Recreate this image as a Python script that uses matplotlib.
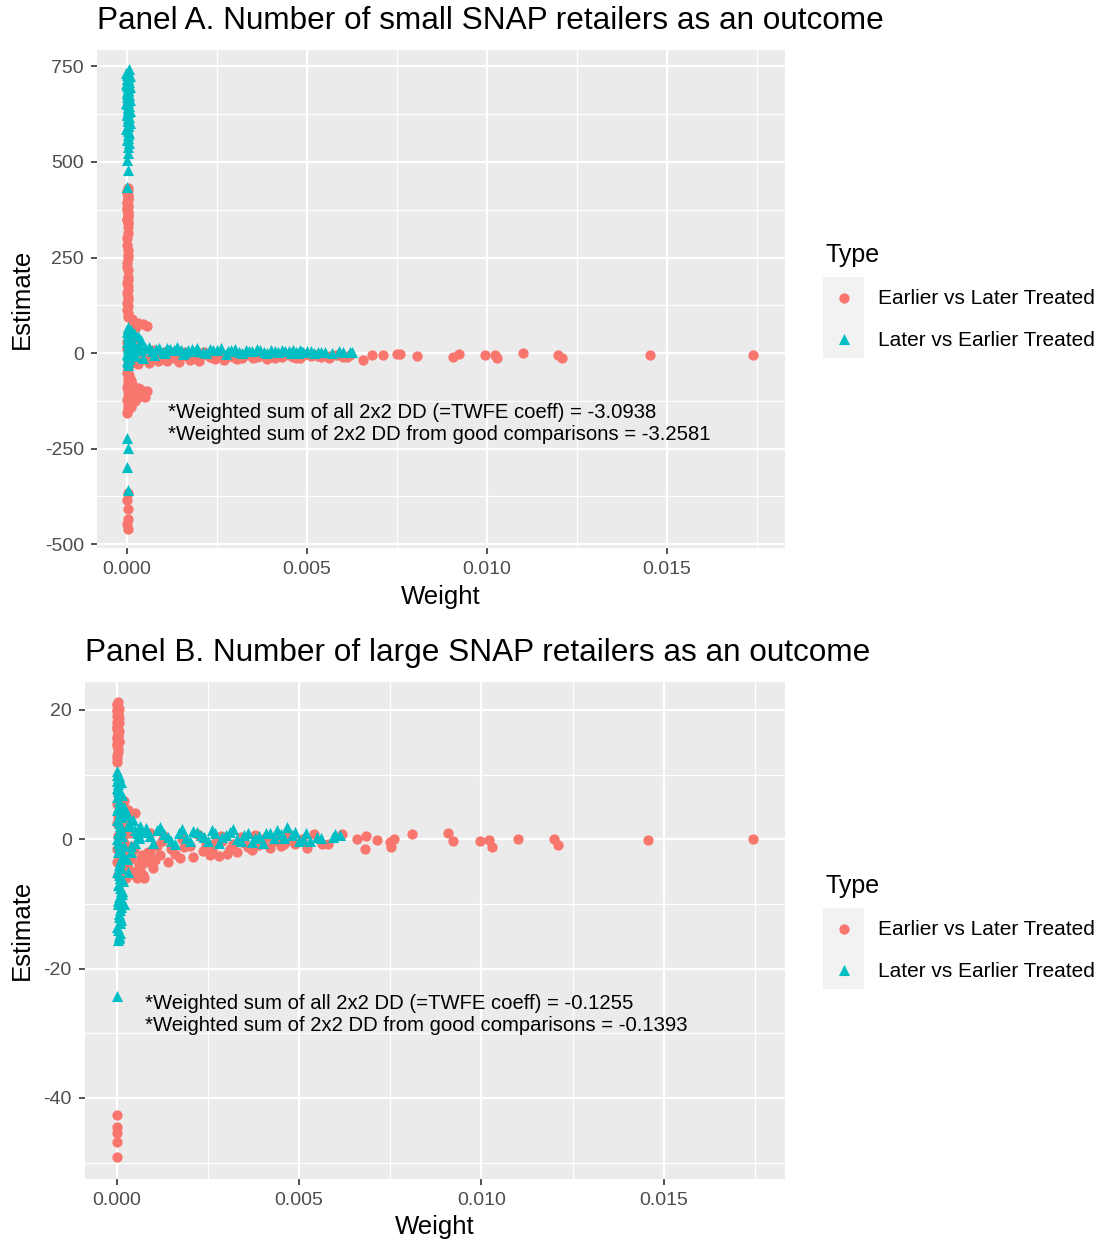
import matplotlib
matplotlib.use("Agg")
import matplotlib.pyplot as plt
from matplotlib.patches import Rectangle

plt.rcParams['font.family'] = ['Liberation Sans', 'DejaVu Sans']

# ---------------- DATA ----------------
type_labels = ["Earlier vs Later Treated", "Later vs Earlier Treated"]
x_ticks = [0.0, 0.005, 0.010, 0.015]
x_tick_labels = ["0.000", "0.005", "0.010", "0.015"]
a_y_ticks = [750, 500, 250, 0, -250, -500]
a_y_tick_labels = ["750", "500", "250", "0", "-250", "-500"]
b_y_ticks = [20, 0, -20, -40]
b_y_tick_labels = ["20", "0", "-20", "-40"]

titles = ["Panel A. Number of small SNAP retailers as an outcome",
          "Panel B. Number of large SNAP retailers as an outcome"]
a_note = ("*Weighted sum of all 2x2 DD (=TWFE coeff) = -3.0938\n"
          "*Weighted sum of 2x2 DD from good comparisons = -3.2581")
b_note = ("*Weighted sum of all 2x2 DD (=TWFE coeff) = -0.1255\n"
          "*Weighted sum of 2x2 DD from good comparisons = -0.1393")

# Panel A - Earlier vs Later Treated (red circles)
a_early_w = [
    # vertical column near zero weight
    0.00002, 0.00001, 0.00003, 0.00002, 0.00000, 0.00003, 0.00001, 0.00002, 0.00003, 0.00001, 0.00002,
    0.00002, 0.00001, 0.00003, 0.00002, 0.00001, 0.00002, 0.00003, 0.00001, 0.00002, 0.00002, 0.00001,
    0.00003, 0.00000, 0.00002, 0.00004, 0.00001, 0.00003, 0.00000, 0.00002, 0.00004, 0.00001, 0.00003,
    0.00002, 0.00000, 0.00003, 0.00001, 0.00002, 0.00004, 0.00001, 0.00002, 0.00003, 0.00001,
    # upper blob
    0.00002, 0.00004, 0.00015, 0.00030, 0.00045, 0.00055, 0.00025, 0.00008, 0.00002, 0.00005,
    # around zero
    0.00001, 0.00003, 0.00010, 0.00020, 0.00005, 0.00030, 0.00010, 0.00002, 0.00040, 0.00020, 0.00003,
    0.00005, 0.00012, 0.00018, 0.00026, 0.00033, 0.00002, 0.00008, 0.00015, 0.00022, 0.00030, 0.00038,
    0.00001,
    # lower blob
    0.00002, 0.00001, 0.00003, 0.00002, 0.00001, 0.00003, 0.00002, 0.00001, 0.00003, 0.00002, 0.00001,
    0.00015, 0.00030, 0.00042, 0.00055, 0.00040, 0.00025, 0.00010, 0.00020,
    0.00005, 0.00010, 0.00018, 0.00028, 0.00035, 0.00048, 0.00050, 0.00012, 0.00022, 0.00003,
    # bottom
    0.00002, 0.00001, 0.00002, 0.00003, 0.00001, 0.00002,
    # band
    0.00065, 0.00080, 0.00090, 0.00105, 0.00124, 0.00140, 0.00157, 0.00170, 0.00190, 0.00200, 0.00221,
    0.00240, 0.00250, 0.00270, 0.00295, 0.00310, 0.00320, 0.00340, 0.00360, 0.00379, 0.00390, 0.00400,
    0.00416, 0.00430, 0.00450, 0.00470, 0.00490, 0.00510, 0.00527, 0.00540, 0.00564, 0.00580, 0.00601,
    0.00620,
    0.00022, 0.00035, 0.00048, 0.00060, 0.00072, 0.00085, 0.00098, 0.00110, 0.00118, 0.00130, 0.00145,
    0.00160, 0.00175, 0.00185, 0.00200, 0.00215, 0.00230, 0.00245, 0.00260, 0.00275, 0.00290, 0.00305,
    0.00330, 0.00350, 0.00370, 0.00410, 0.00440, 0.00460, 0.00480, 0.00500, 0.00530, 0.00560, 0.00590,
    0.00610,
    # far right
    0.00656, 0.00680, 0.00712, 0.00749, 0.00758, 0.00805, 0.00906, 0.00923, 0.00994, 0.01022, 0.01027,
    0.01099, 0.01196, 0.01209, 0.01453, 0.01740,
]
a_early_est = [
    427, 418, 409, 400, 392, 383, 374, 366, 357, 348, 340,
    314, 283, 270, 257, 235, 218, 200, 183, 165, 147, 130,
    431, 423, 414, 405, 396, 388, 379, 370, 361, 352, 344,
    330, 300, 248, 226, 192, 175, 156, 138, 122, 112,
    105, 95, 88, 80, 75, 72, 68, 62, 50, 40,
    30, 20, 12, 8, 3, -2, -8, -15, -10, -20, -28,
    15, -25, 25, -12, 5, -35, 0, -18, 14, -28, -5,
    10,
    -40, -52, -64, -76, -88, -100, -112, -124, -136, -148, -157,
    -82, -92, -98, -100, -112, -118, -128, -105,
    -58, -70, -90, -108, -95, -105, -115, -140, -125, -145,
    -367, -385, -407, -433, -446, -459,
    -12, -4, -18, 2, -6, -16, -4, -9, -14, -1, -5,
    -12, -3, -17, -9, -2, -13, -6, -10, -4, -15, -6,
    -3, -10, -6, -12, -4, -8, -5, -11, -8, -4, -10,
    -6,
    -22, 5, -15, -25, 8, -20, -8, -22, 5, -12, -24,
    3, -18, -6, -20, 2, -9, -16, -2, -11, -6, -15,
    -3, -12, -7, -14, -2, -9, -13, -3, -8, -12, -5,
    -9,
    -19, -6, -4, -2, -2, -8, -10, -2, -6, -4, -12,
    1, -6, -13, -4, -6,
]

# Panel A - Later vs Earlier Treated (teal triangles)
a_late_w = [
    # tall column
    0.00002, 0.00001, 0.00003, 0.00002, 0.00004, 0.00001, 0.00003, 0.00002, 0.00001, 0.00004,
    0.00002, 0.00003, 0.00001, 0.00002, 0.00004, 0.00003, 0.00001, 0.00002, 0.00003, 0.00002,
    0.00001, 0.00003, 0.00002, 0.00001, 0.00002, 0.00002, 0.00001, 0.00002, 0.00001,
    0.00006, -0.00002, 0.00007, 0.00000, 0.00005, -0.00003, 0.00008, 0.00004, -0.00001, 0.00006,
    0.00000, 0.00007, -0.00002, 0.00005, 0.00003, 0.00008, -0.00001, 0.00006, 0.00002, 0.00007,
    0.00004, -0.00002, 0.00005, 0.00003, 0.00006,
    # around zero
    0.00002, 0.00010, 0.00020, 0.00030, 0.00005, 0.00040, 0.00002, 0.00010, 0.00020, 0.00003,
    0.00030, 0.00010, 0.00002, 0.00020, 0.00005, 0.00001, 0.00002,
    0.00003, 0.00001, 0.00004, 0.00002, 0.00005, 0.00001, 0.00003, 0.00006, 0.00002, 0.00004,
    0.00001, 0.00003, 0.00005, 0.00002,
    # bottom
    0.00001, 0.00002, 0.00001, 0.00002,
    # band
    0.00040, 0.00050, 0.00070, 0.00080, 0.00100, 0.00110, 0.00130, 0.00150, 0.00160, 0.00180, 0.00190,
    0.00210, 0.00230, 0.00240, 0.00260, 0.00280, 0.00290, 0.00310, 0.00330, 0.00347, 0.00360, 0.00380,
    0.00400, 0.00420, 0.00440, 0.00450, 0.00460, 0.00470, 0.00480, 0.00490, 0.00510, 0.00530, 0.00550,
    0.00590, 0.00626,
    0.00015, 0.00025, 0.00035, 0.00045, 0.00060, 0.00075, 0.00090, 0.00105, 0.00120, 0.00140, 0.00155,
    0.00170, 0.00195, 0.00220, 0.00250, 0.00275, 0.00300, 0.00320, 0.00340, 0.00370, 0.00390, 0.00410,
    0.00430, 0.00455, 0.00465, 0.00475, 0.00485, 0.00500, 0.00520, 0.00540, 0.00570, 0.00600, 0.00620,
]
a_late_est = [
    735, 728, 721, 714, 707, 700, 693, 686, 679, 672,
    665, 658, 651, 644, 637, 630, 622, 614, 606, 598,
    590, 580, 570, 558, 540, 523, 505, 479, 435,
    742, 732, 724, 717, 710, 703, 696, 689, 682, 676,
    669, 661, 654, 647, 640, 633, 626, 618, 610, 602,
    594, 585, 575, 563, 550,
    68, 60, 52, 45, 40, 35, 30, 25, 20, 15,
    12, 5, -5, -3, -12, -22, -30,
    62, 55, 48, 42, 36, 28, 22, 16, 10, 4,
    -2, -8, -16, -24,
    -223, -249, -298, -358,
    8, 14, 5, 10, 3, 12, 7, 9, 2, 11, 6,
    4, 10, 7, 12, 5, 9, 3, 8, 6, 11, 4,
    7, 3, 6, 5, 9, 4, 7, 3, 5, 2, 4,
    5, 3,
    22, -8, 18, -14, 15, -4, 14, 0, 10, 15, -2,
    8, 13, 1, 8, -3, 10, 1, 5, 9, 0, 5,
    8, 1, 4, -1, 2, 6, 0, 3, 1, 4, 2,
]

# Panel B - Earlier vs Later Treated (red circles)
b_early_w = [
    # top column
    0.00001, 0.00003, 0.00002, 0.00004, 0.00001, 0.00003, 0.00005, 0.00002, 0.00001, 0.00004,
    0.00003, 0.00002, 0.00005, 0.00001, 0.00003, 0.00002, 0.00001,
    0.00004, 0.00002, 0.00005, 0.00001, 0.00003, 0.00006, 0.00002, 0.00004, 0.00001, 0.00005,
    0.00003, 0.00002, 0.00006, 0.00001, 0.00004, 0.00002,
    # around zero
    0.00003, 0.00001, 0.00020, 0.00010, 0.00030, 0.00050, 0.00002, 0.00015, 0.00004, 0.00020,
    0.00001, 0.00010, 0.00030, 0.00002, 0.00040, 0.00015, 0.00003, 0.00060, 0.00080, 0.00100,
    0.00045, 0.00070, 0.00025,
    0.00005, 0.00012, 0.00020, 0.00028, 0.00035, 0.00042, 0.00050, 0.00058, 0.00066, 0.00075,
    0.00085, 0.00095, 0.00008, 0.00016, 0.00024, 0.00032, 0.00040, 0.00048, 0.00056, 0.00064,
    0.00072, 0.00090, 0.00003, 0.00010,
    # bottom
    0.00001, 0.00002, 0.00001, 0.00002, 0.00001,
    # band
    0.00090, 0.00110, 0.00119, 0.00130, 0.00150, 0.00174, 0.00180, 0.00200, 0.00220, 0.00237,
    0.00256, 0.00270, 0.00285, 0.00302, 0.00320, 0.00340, 0.00360, 0.00380, 0.00400, 0.00420,
    0.00440, 0.00460, 0.00480, 0.00507, 0.00521, 0.00541, 0.00562, 0.00580, 0.00617,
    0.00105, 0.00125, 0.00140, 0.00160, 0.00185, 0.00210, 0.00230, 0.00245, 0.00260, 0.00280,
    0.00290, 0.00310, 0.00330, 0.00350, 0.00370, 0.00390, 0.00410, 0.00430, 0.00450, 0.00470,
    0.00490,
    # far right
    0.00658, 0.00681, 0.00684, 0.00713, 0.00749, 0.00751, 0.00761, 0.00809, 0.00909, 0.00923,
    0.00996, 0.01022, 0.01028, 0.01101, 0.01199, 0.01209, 0.01456, 0.01744,
]
b_early_est = [
    21.0, 20.5, 20.0, 19.5, 19.0, 18.5, 18.0, 17.5, 17.0, 16.5,
    16.0, 15.5, 15.0, 14.5, 14.0, 13.0, 12.0,
    21.2, 20.8, 20.2, 19.8, 19.2, 18.8, 18.2, 17.8, 17.2, 16.8,
    16.2, 15.8, 15.2, 14.8, 13.5, 12.5,
    7.0, 5.5, 6.0, 4.0, 4.5, 4.0, 2.5, 1.5, 0.5, -0.5,
    -1.5, -2.5, -2.0, -3.5, -3.0, -4.5, -5.5, -4.0, -3.5, -4.5,
    -5.0, -2.5, -6.0,
    6.5, 5.0, 3.0, 4.5, 1.0, -1.0, -5.5, -5.0, -3.0, -6.0,
    -2.0, -3.0, -1.0, 0.5, -3.5, -4.5, -2.5, -1.5, -6.0, -4.5,
    -5.5, -2.0, 3.5, 2.0,
    -42.6, -44.5, -45.5, -46.8, -49.1,
    1.0, -1.0, -2.5, 0.5, -1.5, -2.9, 0.0, -1.0, 0.8, -1.8,
    -2.4, -0.5, 0.5, -2.2, -0.8, 0.3, -1.2, 0.6, -0.5, -1.4,
    0.2, -0.7, -0.3, 0.0, -1.3, 0.8, -0.7, -0.8, 0.8,
    -3.2, -0.2, -3.5, -2.2, -1.2, -2.8, 0.3, -0.9, -1.6, -2.6,
    -0.3, -1.5, -2.0, -0.6, -1.6, -0.9, 0.4, -0.2, -1.0, 0.5,
    -0.8,
    0.0, -1.45, 0.46, -0.15, -0.41, -1.19, 0.1, 0.77, 0.98, -0.26,
    -0.26, -0.05, -1.19, 0.0, 0.1, -0.93, -0.15, 0.0,
]

# Panel B - Later vs Earlier Treated (teal triangles)
b_late_w = [
    # column
    0.00002, 0.00001, 0.00003, 0.00002, 0.00004, 0.00001, 0.00003, 0.00005, 0.00002, 0.00006,
    0.00003, 0.00008, 0.00002, 0.00010, 0.00004, 0.00001, 0.00007, 0.00003, 0.00011, 0.00005,
    0.00002, 0.00009, 0.00004, 0.00012, 0.00006, 0.00003, 0.00010, 0.00005, 0.00008, 0.00004,
    0.00006, 0.00003,
    0.00007, 0.00012, 0.00004, 0.00014, 0.00009, 0.00002, 0.00013, 0.00006, 0.00011, 0.00015,
    0.00003, 0.00010, 0.00016, 0.00008, 0.00013, 0.00005, 0.00018, 0.00009, 0.00014, 0.00004,
    0.00011, 0.00007, 0.00013, 0.00002, 0.00010, 0.00006,
    # spread near zero
    0.00020, 0.00032, 0.00030, 0.00050, 0.00020, 0.00040, 0.00060, 0.00010, 0.00015, 0.00020,
    0.00010,
    0.00025, 0.00035, 0.00045, 0.00055, 0.00065, 0.00080, 0.00090, 0.00028, 0.00040, 0.00050,
    0.00030,
    # lone low point
    0.00001,
    # band
    0.00070, 0.00090, 0.00110, 0.00130, 0.00150, 0.00170, 0.00190, 0.00210, 0.00230, 0.00250,
    0.00270, 0.00290, 0.00310, 0.00330, 0.00350, 0.00370, 0.00390, 0.00410, 0.00430, 0.00450,
    0.00466, 0.00490, 0.00510, 0.00530, 0.00550, 0.00594, 0.00612,
    0.00060, 0.00080, 0.00100, 0.00120, 0.00140, 0.00160, 0.00180, 0.00200, 0.00220, 0.00240,
    0.00260, 0.00280, 0.00300, 0.00320, 0.00340, 0.00360, 0.00380, 0.00400, 0.00420, 0.00440,
    0.00460, 0.00480, 0.00500, 0.00520, 0.00560, 0.00600,
]
b_late_est = [
    10.5, 10.0, 9.5, 9.0, 8.5, 8.0, 7.5, 7.0, 6.5, 6.0,
    5.0, 4.0, 3.0, 2.0, 1.0, 0.0, -1.0, -2.0, -3.0, -4.0,
    -5.0, -6.0, -7.0, -8.0, -9.0, -10.0, -11.0, -12.0, -13.0, -14.0,
    -15.0, -15.5,
    9.8, 8.8, 7.8, 6.8, 5.5, 4.5, 3.5, 2.5, 1.5, 0.5,
    -0.5, -1.5, -2.5, -3.5, -4.5, -5.5, -6.5, -7.5, -8.5, -9.5,
    -10.5, -11.5, -12.5, -13.5, -14.5, -15.3,
    5.0, 3.7, 2.0, 1.5, -1.0, -2.0, 0.5, -6.0, -8.0, -10.0,
    -12.0,
    4.0, 2.5, 3.0, 1.0, 2.0, 1.5, 0.5, -3.0, -1.0, -0.5,
    -5.0,
    -24.3,
    1.2, 0.5, 1.5, 0.8, -0.3, 1.0, 0.2, 1.3, 0.6, -0.2,
    0.9, 0.3, 1.1, 0.0, 0.7, -0.4, 0.5, 1.0, 0.2, 0.8,
    1.95, 1.2, 0.1, -0.2, 0.3, 0.36, 0.66,
    0.2, 1.8, -0.5, 1.9, 0.4, -0.8, 1.6, -0.3, 1.2, 0.4,
    1.5, -0.5, 0.6, 1.6, -0.2, 1.0, 0.2, -0.6, 0.9, 1.4,
    0.2, 0.6, -0.3, 0.9, 0.2, 0.8,
]

# ---------------- STYLE ----------------
RED = "#F8766D"
TEAL = "#00BFC4"
W, H = 1103, 1243
fig = plt.figure(figsize=(W / 100, H / 100), dpi=100)


def px_axes(l, t, r, b):
    return fig.add_axes([l / W, 1 - b / H, (r - l) / W, (b - t) / H])


def style(ax, xlim, ylim, yticks, ylabels, yminor):
    ax.set_facecolor("#EBEBEB")
    for s in ax.spines.values():
        s.set_visible(False)
    ax.set_xlim(*xlim)
    ax.set_ylim(*ylim)
    ax.set_xticks(x_ticks)
    ax.set_xticklabels(x_tick_labels)
    ax.set_xticks([0.0025, 0.0075, 0.0125, 0.0175], minor=True)
    ax.set_yticks(yticks)
    ax.set_yticklabels(ylabels)
    ax.set_yticks(yminor, minor=True)
    ax.grid(which="major", color="white", lw=1.6)
    ax.grid(which="minor", color="white", lw=0.8)
    ax.set_axisbelow(True)
    ax.tick_params(which="major", length=4.5, width=1.2, color="#333333",
                   labelsize=14, labelcolor="#4D4D4D", pad=5)
    ax.tick_params(which="minor", length=0)


def legend(ax, top, h_early, h_late):
    fig.text(825 / W, 1 - (top - 22) / H, "Type", fontsize=18, va="center", ha="left")
    fig.patches.append(Rectangle((823 / W, 1 - (top + 81) / H), 41 / W, 81 / H,
                                 transform=fig.transFigure, facecolor="#F2F2F2",
                                 edgecolor="none", zorder=-1))
    ax.legend([h_early, h_late], type_labels, loc="upper left",
              bbox_to_anchor=(823 / W, 1 - top / H), bbox_transform=fig.transFigure,
              frameon=False, fontsize=15, borderpad=0, borderaxespad=0,
              handlelength=1.97, handleheight=2.688, labelspacing=0,
              handletextpad=0.67, scatterpoints=1, scatteryoffsets=[0.15])


# ---- Panel A ----
axA = px_axes(97, 50, 785, 548)
style(axA, (-0.000833, 0.018278), (-510, 793), a_y_ticks, a_y_tick_labels,
      [625, 375, 125, -125, -375])
hAe = axA.scatter(a_early_w, a_early_est, s=55, marker="o", color=RED, linewidths=0, zorder=3)
hAl = axA.scatter(a_late_w, a_late_est, s=64, marker="^", color=TEAL, linewidths=0, zorder=3)
axA.text(0.00114, -183, a_note, ha="left", va="center", fontsize=14.6, linespacing=1.2)
legend(axA, 277, hAe, hAl)

# ---- Panel B ----
axB = px_axes(85, 682, 785, 1179)
style(axB, (-0.000869, 0.018326), (-52.54, 24.33), b_y_ticks, b_y_tick_labels,
      [10, -10, -30, -50])
hBe = axB.scatter(b_early_w, b_early_est, s=55, marker="o", color=RED, linewidths=0, zorder=3)
hBl = axB.scatter(b_late_w, b_late_est, s=64, marker="^", color=TEAL, linewidths=0, zorder=3)
axB.text(0.00078, -27.1, b_note, ha="left", va="center", fontsize=14.6, linespacing=1.2)
legend(axB, 908, hBe, hBl)

# ---- titles and axis titles ----
fig.text(97 / W, 1 - 21 / H, titles[0], fontsize=22.7, ha="left", va="center")
fig.text(85 / W, 1 - 653 / H, titles[1], fontsize=22.7, ha="left", va="center")
fig.text(441 / W, 1 - 597 / H, "Weight", fontsize=18.5, ha="center", va="center")
fig.text(435 / W, 1 - 1227 / H, "Weight", fontsize=18.5, ha="center", va="center")
fig.text(22 / W, 1 - 299 / H, "Estimate", fontsize=18.5, ha="center", va="center", rotation=90)
fig.text(22 / W, 1 - 930 / H, "Estimate", fontsize=18.5, ha="center", va="center", rotation=90)

fig.savefig("out.png", dpi=100)
